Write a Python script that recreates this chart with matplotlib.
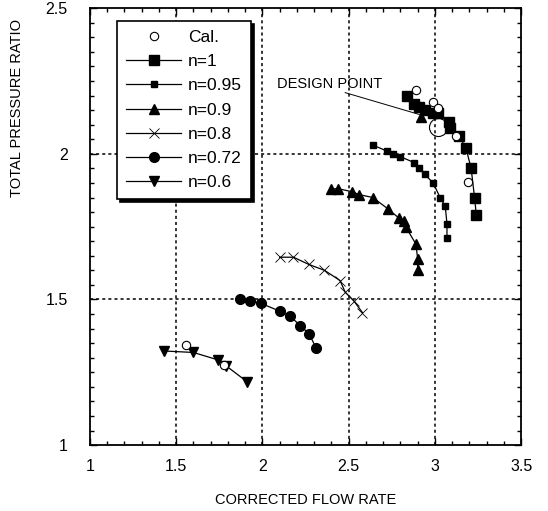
import numpy as np
import matplotlib
matplotlib.use("Agg")
import matplotlib.pyplot as plt
from matplotlib.ticker import MultipleLocator

plt.rcParams['font.family'] = ['Liberation Sans', 'DejaVu Sans']

# speed lines
n1_x = [2.84, 2.88, 2.91, 2.94, 2.99, 3.02, 3.08, 3.09, 3.14, 3.18, 3.21, 3.23, 3.24]
n1_y = [2.20, 2.17, 2.16, 2.15, 2.14, 2.14, 2.11, 2.09, 2.06, 2.02, 1.95, 1.85, 1.79]

n95_x = [2.64, 2.72, 2.76, 2.80, 2.88, 2.91, 2.94, 2.99, 3.03, 3.06, 3.07, 3.07]
n95_y = [2.03, 2.01, 2.00, 1.99, 1.97, 1.95, 1.93, 1.90, 1.85, 1.82, 1.76, 1.71]

n90_x = [2.40, 2.44, 2.52, 2.56, 2.64, 2.73, 2.79, 2.82, 2.83, 2.89, 2.90, 2.90]
n90_y = [1.88, 1.88, 1.87, 1.86, 1.85, 1.81, 1.78, 1.77, 1.75, 1.69, 1.64, 1.60]

n80_x = [2.10, 2.18, 2.27, 2.36, 2.45, 2.48, 2.53, 2.58]
n80_y = [1.645, 1.645, 1.62, 1.60, 1.565, 1.525, 1.495, 1.455]

n72_x = [1.87, 1.93, 1.99, 2.10, 2.16, 2.22, 2.27, 2.31]
n72_y = [1.50, 1.495, 1.487, 1.46, 1.443, 1.41, 1.383, 1.335]

n60_x = [1.43, 1.60, 1.74, 1.79, 1.91]
n60_y = [1.323, 1.318, 1.293, 1.272, 1.218]

cal_x = [1.56, 1.78, 2.89, 2.99, 3.02, 3.12, 3.19]
cal_y = [1.343, 1.276, 2.218, 2.177, 2.157, 2.061, 1.904]

# design point
dp_x, dp_y = 3.02, 2.093
extra_tri_x, extra_tri_y = 2.92, 2.128

fig = plt.figure(figsize=(5.48, 5.11), dpi=100)
ax = fig.add_axes([0.164, 0.129, 0.787, 0.855])

for v in [1.5, 2, 2.5, 3]:
    ax.axvline(v, color='black', lw=1.1, ls=(0, (2, 2)), zorder=1)
for h in [1.5, 2]:
    ax.axhline(h, color='black', lw=1.1, ls=(0, (2, 2)), zorder=1)

ax.plot(cal_x, cal_y, 'o', mfc='white', mec='black', mew=0.8, ms=6, ls='none',
        label='Cal.', zorder=4)
ax.plot(n1_x, n1_y, '-s', color='black', lw=0.9, ms=7, label='n=1', zorder=3)
ax.plot(n95_x, n95_y, '-s', color='black', lw=0.9, ms=4, label='n=0.95', zorder=3)
ax.plot(n90_x, n90_y, '-^', color='black', lw=0.9, ms=7, label='n=0.9', zorder=3)
ax.plot(n80_x, n80_y, '-x', color='black', lw=0.9, ms=7, mew=0.6, label='n=0.8', zorder=3)
ax.plot(n72_x, n72_y, '-o', color='black', lw=0.9, ms=7, label='n=0.72', zorder=3)
ax.plot(n60_x, n60_y, '-v', color='black', lw=0.9, ms=6.5, label='n=0.6', zorder=3)

ax.plot([extra_tri_x], [extra_tri_y], '^', color='black', ms=7, zorder=3)
ax.plot([dp_x], [dp_y], 'o', mfc='none', mec='black', mew=0.8, ms=13, zorder=4)
ax.plot([2.48, 2.91], [2.21, 2.135], color='black', lw=0.7, zorder=3)
ax.text(2.085, 2.24, 'DESIGN POINT', fontsize=10.5, va='center', ha='left')

ax.set_xlim(1, 3.5)
ax.set_ylim(1, 2.5)
ax.xaxis.set_major_locator(MultipleLocator(0.5))
ax.xaxis.set_minor_locator(MultipleLocator(0.1))
ax.yaxis.set_major_locator(MultipleLocator(0.5))
ax.yaxis.set_minor_locator(MultipleLocator(0.05))
ax.xaxis.set_major_formatter(plt.FuncFormatter(lambda v, p: f'{v:g}'))
ax.yaxis.set_major_formatter(plt.FuncFormatter(lambda v, p: f'{v:g}'))
ax.tick_params(which='both', direction='in', top=True, right=True, labelsize=11.5, width=1)
ax.tick_params(axis='x', which='major', length=5, pad=10)
ax.tick_params(axis='y', which='major', length=5, pad=16)
ax.tick_params(which='minor', length=3)
for s in ax.spines.values():
    s.set_linewidth(1.3)

ax.set_xlabel('CORRECTED FLOW RATE', fontsize=10.5, labelpad=14)
ax.set_ylabel('TOTAL PRESSURE RATIO', fontsize=10.5)
ax.yaxis.set_label_coords(-0.152, 0.771)

leg = ax.legend(loc='upper left', bbox_to_anchor=(0.063, 0.970), borderaxespad=0,
                fontsize=12.5, handlelength=3.2, labelspacing=0.52, handletextpad=0.4,
                borderpad=0.5, fancybox=False, framealpha=1, edgecolor='black',
                shadow={'color': 'black', 'alpha': 1})
leg.get_frame().set_linewidth(1.2)
leg.set_zorder(5)

fig.savefig('out.png', dpi=100)
